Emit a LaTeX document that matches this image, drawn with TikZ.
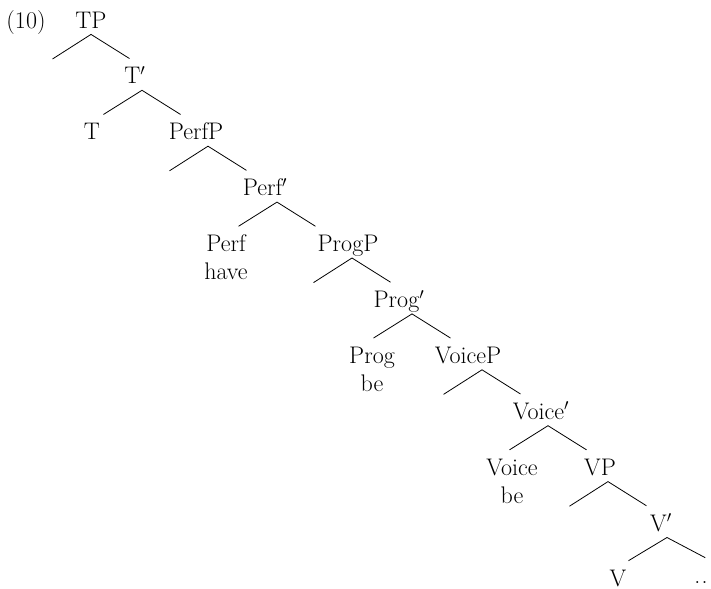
\documentclass[tikz,border=0pt]{standalone}
\usepackage{amsmath}
\newcommand{\twoline}[2]{\begin{tabular}[t]{@{}c@{}}#1\\#2\end{tabular}}

\begin{document}
\begin{tikzpicture}[x=0.75pt, y=-0.75pt, line width=0.6pt,
    every node/.style={font=\fontsize{18}{21}\selectfont, inner sep=0pt,
      text height=18.7pt, text depth=4.5pt, anchor=base}]
      \useasboundingbox (0, 0) rectangle (711, 589);

      \node (ex) at (26, 28) {(10)};
      \node (tp) at (91, 28) {TP};
      \node (tbar) at (135, 83.9) {T$'$};
      \node (t) at (92, 139.8) {T};
      \node (perfp) at (196, 139.8) {PerfP};
      \node (perfbar) at (265, 195.7) {Perf$'$};
      \node (perf) at (226, 251.6) {\twoline{Perf}{have}};
      \node (progp) at (348, 251.6) {ProgP};
      \node (progbar) at (399, 307.5) {Prog$'$};
      \node (prog) at (372, 363.4) {\twoline{Prog}{be}};
      \node (voicep) at (468, 363.4) {VoiceP};
      \node (voicebar) at (541, 419.3) {Voice$'$};
      \node (voice) at (512, 475.2) {\twoline{Voice}{be}};
      \node (vp) at (600, 475.2) {VP};
      \node (vbar) at (661, 531.1) {V$'$};
      \node[text depth=0pt] (v) at (618, 586) {V};
      \node[anchor=base west, text depth=0pt] (rest) at (694, 583) {.\kern1pt.};

      \coordinate (tpspec) at (52.5, 59);
      \coordinate (perfpspec) at (169.5, 170.8);
      \coordinate (progpspec) at (313.5, 282.6);
      \coordinate (voicepspec) at (443.5, 394.4);
      \coordinate (vpspec) at (569.5, 506.2);

      \draw (tpspec) -- (tp.south) -- ([xshift=-4.1pt]tbar.north);
      \draw ([xshift=8.6pt]t.north) -- ([xshift=5.25pt]tbar.south) -- ([xshift=-11.6pt]perfp.north);
      \draw (perfpspec) -- ([xshift=9pt]perfp.south) -- ([xshift=-13.9pt]perfbar.north);
      \draw ([xshift=9.4pt]perf.north) -- ([xshift=9pt]perfbar.south) -- ([xshift=-24.4pt]progp.north);
      \draw (progpspec) -- ([xshift=3pt]progp.south) -- ([xshift=-6.4pt]progbar.north);
      \draw ([xshift=1.1pt]prog.north) -- ([xshift=9.75pt]progbar.south) -- ([xshift=-13.1pt]voicep.north);
      \draw (voicepspec) -- ([xshift=10.5pt]voicep.south) -- ([xshift=-15.4pt]voicebar.north);
      \draw ([xshift=-1.9pt]voice.north) -- ([xshift=5.25pt]voicebar.south) -- ([xshift=-10.1pt]vp.north);
      \draw (vpspec) -- ([xshift=6pt]vp.south) -- ([xshift=-10.9pt]vbar.north);
      \draw ([xshift=7.9pt]v.north) -- ([xshift=4.5pt]vbar.south) -- ([xshift=3.1pt]rest.north);

    \end{tikzpicture}
\end{document}
